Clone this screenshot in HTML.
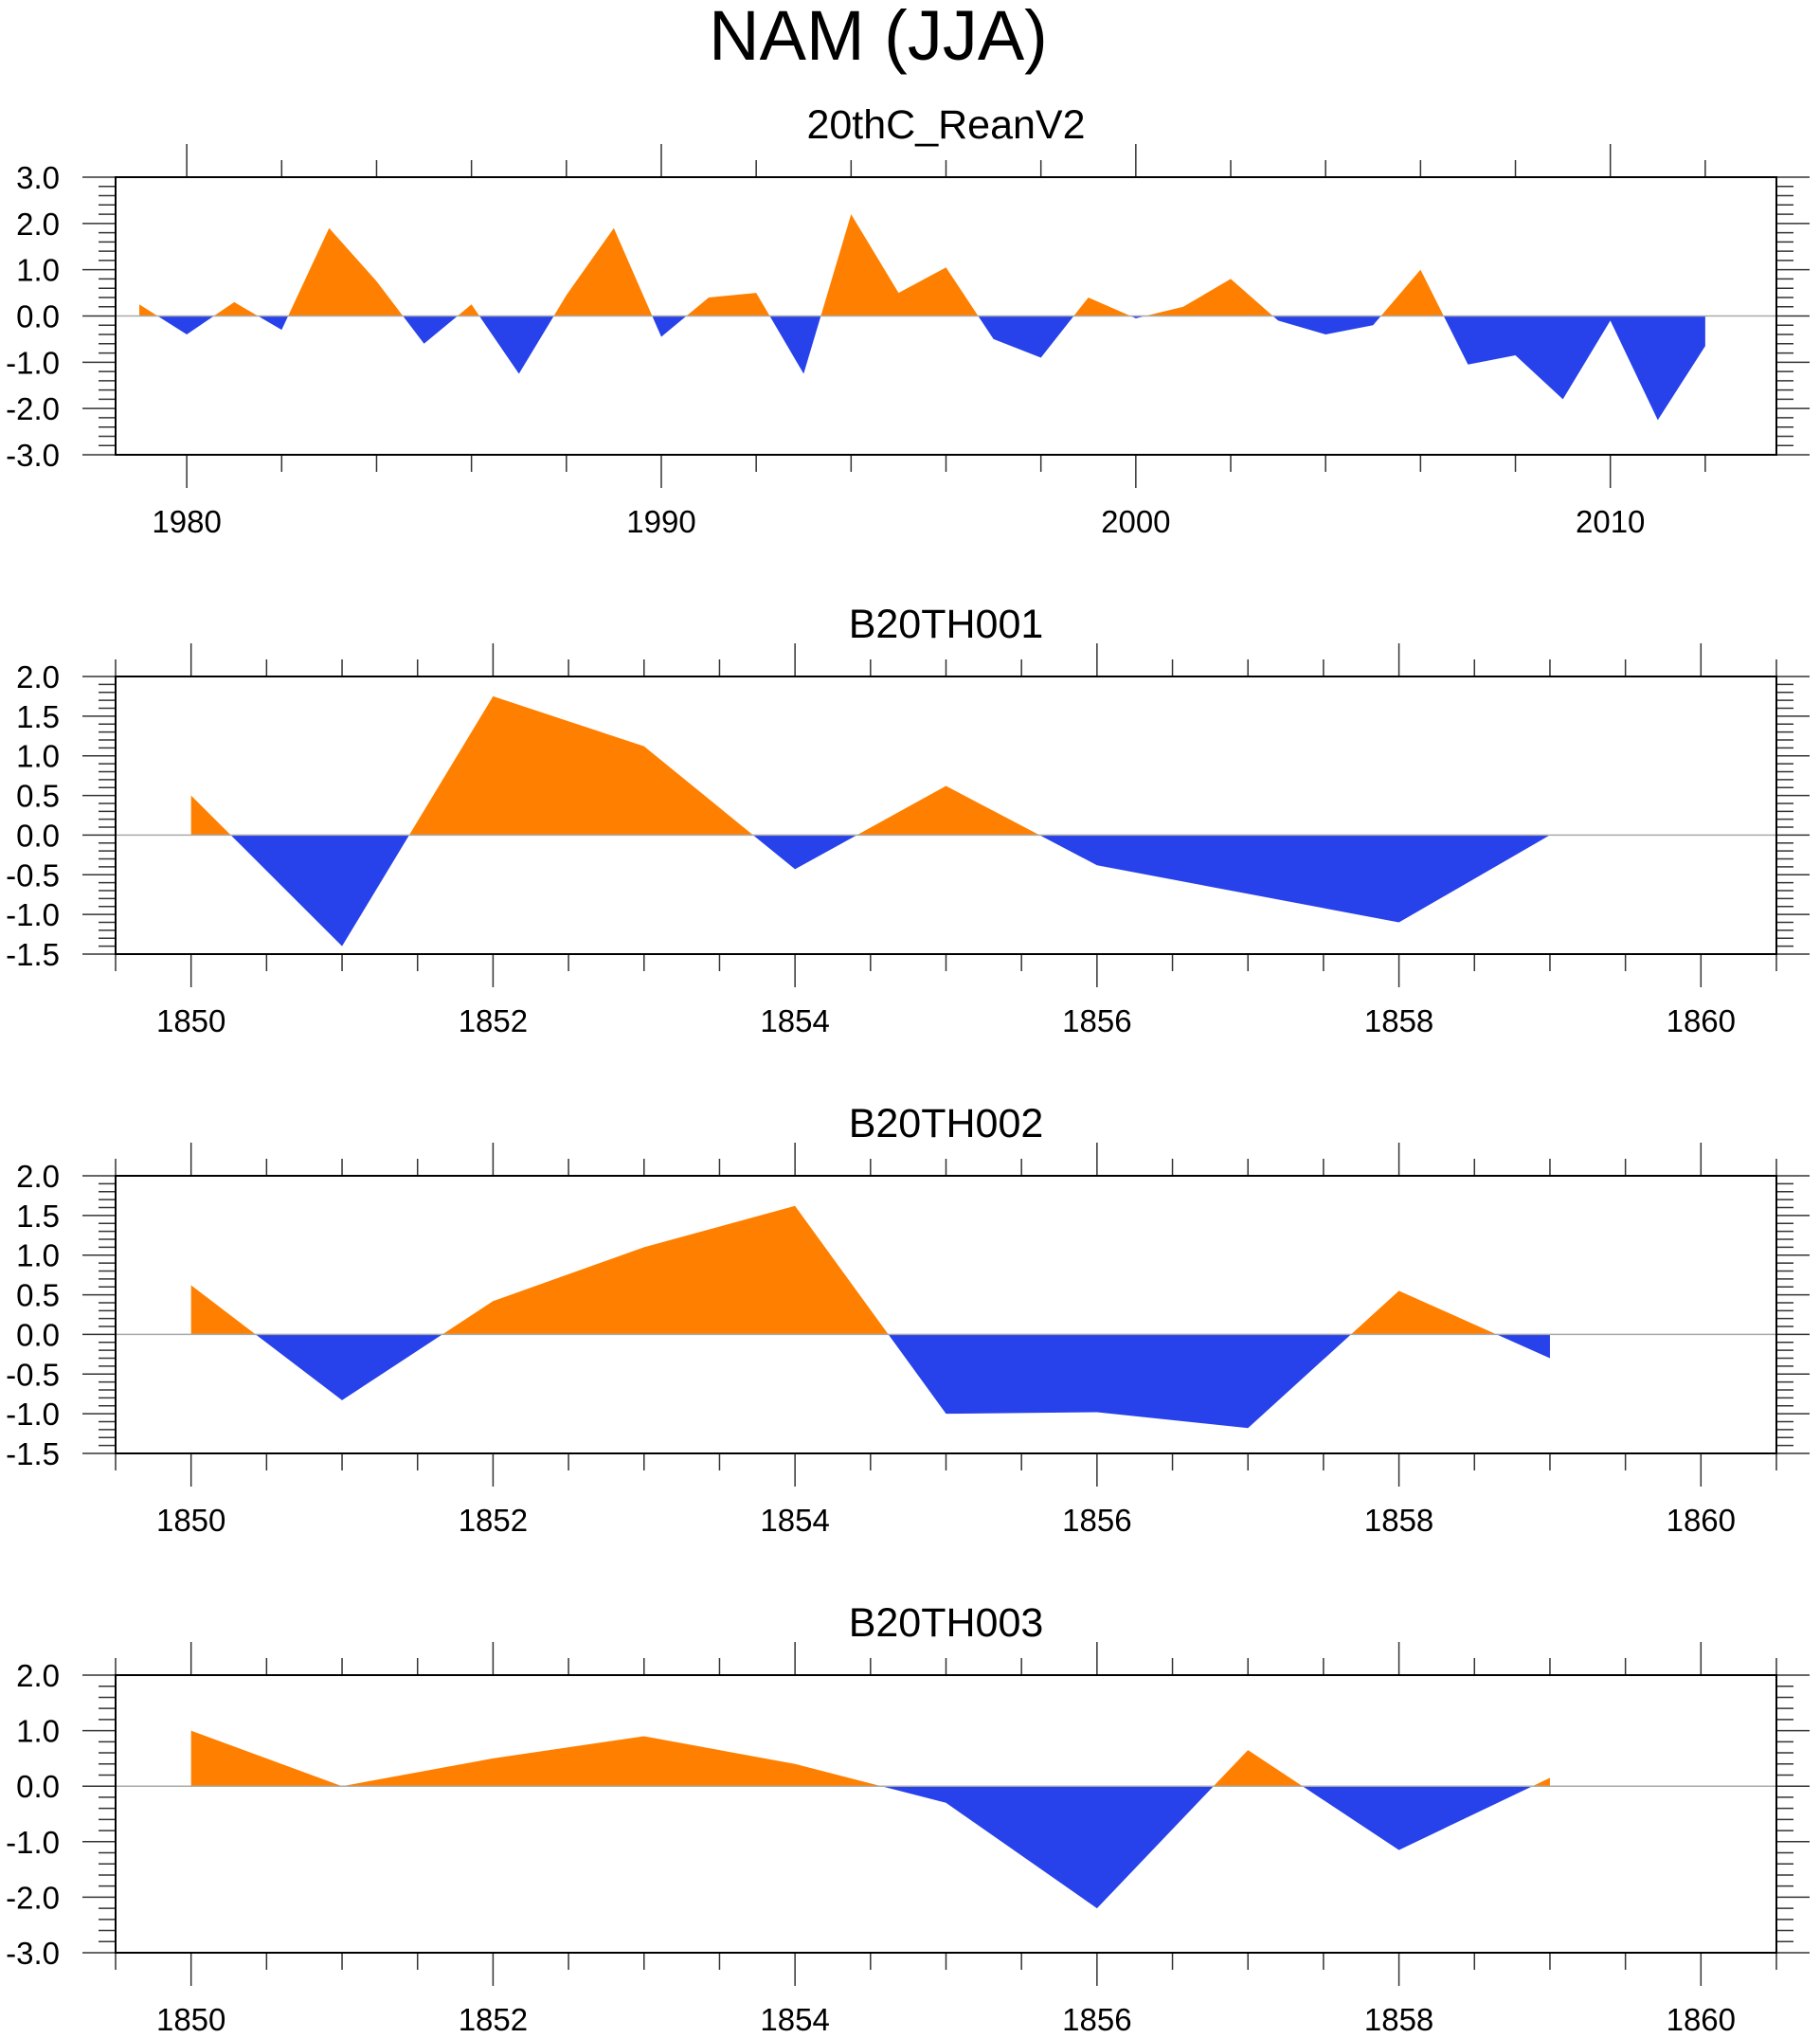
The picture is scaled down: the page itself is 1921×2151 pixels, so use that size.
<!DOCTYPE html>
<html><head><meta charset="utf-8"><style>
html,body{margin:0;padding:0;background:#fff;}
svg{display:block;font-family:"Liberation Sans",Arial,sans-serif;}
</style></head><body>
<svg id="chart" width="1921" height="2151" viewBox="0 0 1921 2151" xmlns="http://www.w3.org/2000/svg">
<text x="927" y="63" font-size="74" text-anchor="middle">NAM (JJA)</text>
</svg>
<script>
const titles = ["20thC_ReanV2","B20TH001","B20TH002","B20TH003"];
const years0 = [1979,1980,1981,1982,1983,1984,1985,1986,1987,1988,1989,1990,1991,1992,1993,1994,1995,1996,1997,1998,1999,2000,2001,2002,2003,2004,2005,2006,2007,2008,2009,2010,2011,2012];
const vals0 = [0.25,-0.4,0.3,-0.3,1.9,0.75,-0.6,0.25,-1.25,0.45,1.9,-0.45,0.4,0.5,-1.25,2.2,0.5,1.05,-0.5,-0.9,0.4,-0.05,0.2,0.8,-0.1,-0.4,-0.2,1.0,-1.05,-0.85,-1.8,-0.1,-2.25,-0.65];
const yearsB = [1850,1851,1852,1853,1854,1855,1856,1857,1858,1859];
const vals1 = [0.5,-1.4,1.75,1.12,-0.43,0.62,-0.38,-0.74,-1.1,0.0];
const vals2 = [0.62,-0.83,0.42,1.1,1.62,-1.0,-0.98,-1.18,0.55,-0.3];
const vals3 = [1.0,0.0,0.5,0.9,0.4,-0.3,-2.2,0.65,-1.15,0.15];
const yMin = [-3,-1.5,-1.5,-3];
const yMax = [3,2,2,2];
const yMajor = [1,0.5,0.5,1];
const yMinor = [0.2,0.1,0.1,0.2];
const xMin = [1978.5,1849.5,1849.5,1849.5];
const xMax = [2013.5,1860.5,1860.5,1860.5];
const xMajor = [10,2,2,2];
const xMinor = [2,0.5,0.5,0.5];
const seriesX = [years0,yearsB,yearsB,yearsB];
const seriesY = [vals0,vals1,vals2,vals3];

const NS="http://www.w3.org/2000/svg";
const svg=document.getElementById('chart');
function mk(tag,attrs,parent){const e=document.createElementNS(NS,tag);for(const k in attrs)e.setAttribute(k,attrs[k]);(parent||svg).appendChild(e);return e;}
const L=122,R=1875,H=293;
const tops=[187,714,1241,1768];
for(let p=0;p<4;p++){
  const T=tops[p],B=T+H;
  const g=mk('g',{});
  
  
  const xs=v=>L+(v-xMin[p])/(xMax[p]-xMin[p])*(R-L);
  const ys=v=>B-(v-yMin[p])/(yMax[p]-yMin[p])*H;
  const t=mk('text',{x:(L+R)/2,y:T-41,'font-size':43,'text-anchor':'middle'},g);
  t.textContent=titles[p];
  
  
  const X=seriesX[p],Y=seriesY[p];
  const z=ys(0);
  let d='M'+xs(X[0])+','+z;
  for(let i=0;i<X.length;i++)d+=' L'+xs(X[i])+','+ys(Y[i]);
  d+=' L'+xs(X[X.length-1])+','+z+' Z';
  const cid='clip'+p;
  const defs=mk('defs',{},g);
  const c1=mk('clipPath',{id:cid+'a'},defs);mk('rect',{x:L,y:T,width:R-L,height:z-T},c1);
  const c2=mk('clipPath',{id:cid+'b'},defs);mk('rect',{x:L,y:z,width:R-L,height:B-z},c2);
  const pos=mk('path',{d:d,fill:'#ff8000','clip-path':'url(#'+cid+'a)'},g);
  
  
  const neg=mk('path',{d:d,fill:'#2842eb','clip-path':'url(#'+cid+'b)'},g);
  
  
  const zl=mk('line',{x1:L,x2:R,y1:z,y2:z,stroke:'#aaa','stroke-width':1.5},g);
  
  
  const nMin=Math.round((yMax[p]-yMin[p])/yMinor[p]);
  for(let i=0;i<=nMin;i++){
    const v=yMin[p]+i*yMinor[p];const y=ys(v);
    const major=Math.abs(v/yMajor[p]-Math.round(v/yMajor[p]))<1e-6;
    const len=major?35:18;
    mk('line',{x1:L-len,x2:L,y1:y,y2:y,stroke:'#333','stroke-width':1.5},g);
    mk('line',{x1:R,x2:R+len,y1:y,y2:y,stroke:'#333','stroke-width':1.5},g);
    if(major){
      const lb=mk('text',{x:63,y:y+12,'font-size':33,'text-anchor':'end'},g);
      lb.textContent=v.toFixed(1);
      
      
    }
  }
  const start=Math.ceil(xMin[p]/xMinor[p]-1e-9)*xMinor[p];
  for(let v=start;v<=xMax[p]+1e-9;v+=xMinor[p]){
    const x=xs(v);
    const major=Math.abs(v/xMajor[p]-Math.round(v/xMajor[p]))<1e-6;
    const len=major?35:18;
    mk('line',{x1:x,x2:x,y1:T-len,y2:T,stroke:'#333','stroke-width':1.5},g);
    mk('line',{x1:x,x2:x,y1:B,y2:B+len,stroke:'#333','stroke-width':1.5},g);
    if(major){
      const lb=mk('text',{x:x,y:B+82,'font-size':33,'text-anchor':'middle'},g);
      lb.textContent=Math.round(v);
      
      
    }
  }
  const fr=mk('rect',{x:L,y:T,width:R-L,height:H,fill:'none',stroke:'#000','stroke-width':2},g);
  
  
}
</script>
</body></html>
